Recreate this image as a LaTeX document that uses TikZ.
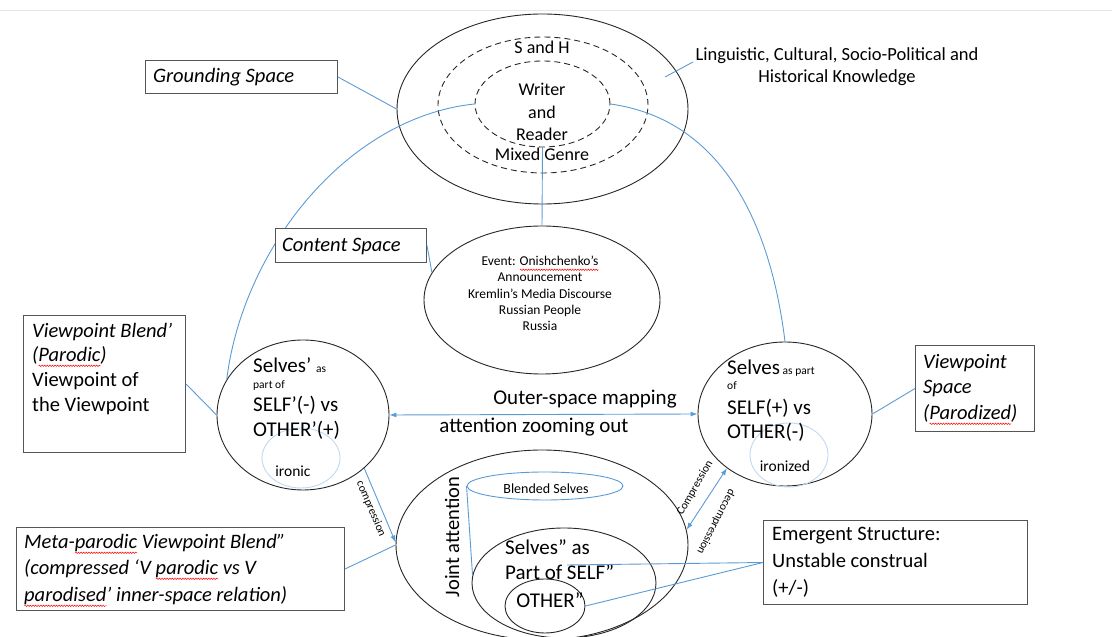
\documentclass[tikz,border=0pt]{standalone}
\usepackage{fontspec}
\setmainfont{Carlito}
\usetikzlibrary{arrows.meta,shapes.geometric,decorations.pathmorphing}
\definecolor{linkblue}{RGB}{91,155,213}
\definecolor{paleblue}{RGB}{192,216,240}
\definecolor{boxgray}{RGB}{85,85,85}
% red wavy underline, as left by a spell checker
\newsavebox\wavebox
\newlength\wavelen
\newcommand\spellwave[1]{\sbox\wavebox{#1}\setlength\wavelen{\wd\wavebox}%
  \rlap{\tikz[baseline=0pt]\draw[red,line width=0.5pt,decorate,
    decoration={snake,amplitude=0.7pt,segment length=2.6pt}]
    (0pt,-3.8pt) -- (\wavelen,-3.8pt);}\usebox\wavebox}
\newcommand\fs[2]{\fontsize{#1}{#2}\selectfont}

\begin{document}
\begin{tikzpicture}[x=1pt,y=1pt,
  oval/.style={ellipse, draw=black!85, line width=0.9pt, inner sep=0pt},
  dashoval/.style={oval, dash pattern=on 6pt off 4pt},
  halo/.style={ellipse, draw=paleblue, line width=0.9pt, inner sep=0pt},
  frame/.style={draw=boxgray, fill=white, line width=1pt, inner sep=0pt, anchor=north west},
  link/.style={draw=linkblue, line width=0.9pt},
  arrow/.style={link, -{Latex[length=7pt,width=5pt]}},
  twoway/.style={link, {Latex[length=7pt,width=5pt]}-{Latex[length=7pt,width=5pt]}},
  txt/.style={inner sep=0pt, anchor=base west},
  ctxt/.style={inner sep=0pt, anchor=base},
]
\useasboundingbox (0,0) rectangle (1112,637);
\begin{scope}
\clip (0,0) rectangle (1112,637);
\draw[black!10] (0,627) -- (1112,627);

% ---------- grounding space ----------
\node[oval, minimum width=291, minimum height=190] (ground) at (542.5,528) {};
\node[dashoval, minimum width=210, minimum height=136] (sh) at (543,532) {};
\node[dashoval, minimum width=135, minimum height=86] (wr) at (542.5,533) {};
\node[ctxt] (tSH) at (542,583) {\fs{18}{22}S and H};
\node[ctxt] (tW) at (542,541) {\fs{18}{22}Writer};
\node[ctxt] (tA) at (542,518) {\fs{18}{22}and};
\node[ctxt] (tR) at (542,496) {\fs{18}{22}Reader};
\node[ctxt] (tMG) at (542,476) {\fs{18}{22}Mixed Genre};

\node[ctxt] (k1) at (837,576) {\fs{18.5}{22}Linguistic, Cultural, Socio-Political and};
\node[ctxt] (k2) at (837,554) {\fs{18.5}{22}Historical Knowledge};
\coordinate (kA) at (693,575);
\coordinate (kB) at (665,560);
\draw[link] (kA) -- (kB);

% ---------- content space ----------
\node[oval, minimum width=236, minimum height=148] (content) at (542,337) {};
\node[ctxt] (c1) at (540,371) {\fs{13.5}{16}Event: \spellwave{Onishchenko’s}};
\node[ctxt] (c2) at (540,355) {\fs{13.5}{16}Announcement};
\node[ctxt] (c3) at (540,338) {\fs{13.5}{16}Kremlin’s Media Discourse};
\node[ctxt] (c4) at (540,322) {\fs{13.5}{16}Russian People};
\node[ctxt] (c5) at (540,306) {\fs{13.5}{16}Russia};

% ---------- viewpoint spaces ----------
\node[oval, minimum width=172, minimum height=150] (selvesL) at (303,222) {};
\node[halo, minimum width=78, minimum height=60] (ironyL) at (301,179) {};
\node[txt] (l1) at (253,264) {\fs{21}{25}Selves’ {\fs{11.5}{14}as}};
\node[txt] (l2) at (253,248) {\fs{11.5}{14}part of};
\node[txt] (l3) at (253,225) {\fs{21}{25}SELF’(-) vs};
\node[txt] (l4) at (253,200) {\fs{21}{25}OTHER’(+)};
\node[ctxt] (l5) at (293,160) {\fs{15.5}{18}ironic};

\node[oval, minimum width=174, minimum height=144] (selvesR) at (785,223) {};
\node[halo, minimum width=78, minimum height=64] (ironyR) at (789,182) {};
\node[txt] (r1) at (727,262) {\fs{21}{25}Selves{\fs{11.5}{14} as part}};
\node[txt] (r2) at (727,247) {\fs{11.5}{14}of};
\node[txt] (r3) at (727,222) {\fs{21}{25}SELF(+) vs};
\node[txt] (r4) at (727,198) {\fs{21}{25}OTHER(-)};
\node[ctxt] (r5) at (785,165) {\fs{15.5}{18}ironized};

\draw[twoway] (selvesL.east) -- (selvesR.west);
\node[ctxt] (m1) at (585,232) {\fs{21}{25}Outer-space mapping};
\node[ctxt] (m2) at (534,204) {\fs{21}{25}attention zooming out};

% ---------- joint attention blend ----------
\node[oval, minimum width=292, minimum height=190] (joint) at (542,92) {};
\node[oval, draw=linkblue, minimum width=156, minimum height=28] (blend) at (545,151) {};
\node[ctxt] (tb) at (546,143) {\fs{14}{17}Blended Selves};
\node[oval, minimum width=184, minimum height=110] (inner) at (564,54) {};
\node[oval, minimum width=80, minimum height=54] (other) at (545,31) {};
\node[txt] (j1) at (505,82) {\fs{21}{25}Selves” as};
\node[txt] (j2) at (505,57) {\fs{21}{25}Part of SELF”};
\node[ctxt] (j3) at (550,29) {\fs{21}{25}OTHER”};
\node[inner sep=0pt, rotate=90] (ja) at (452,100) {\fs{20.5}{25}Joint attention};
\draw[link] (blend.west) -- (inner.175);

% ---------- connectors ----------
\draw[link] (wr.south) -- (content.north);
\draw[link] (wr.west) to[out=186, in=83, looseness=0.9] (selvesL.155);
\draw[link] (wr.east) to[out=-8, in=97] (selvesR.north);

\draw[arrow] (selvesL.-41) -- (joint.179);
\node[inner sep=0pt, rotate=-67] (lc) at (371,128) {\fs{11.5}{14}compression};
\draw[twoway] (joint.6) -- (selvesR.223);
\node[inner sep=0pt, rotate=60] (rc) at (695,149) {\fs{11.5}{14}Compression};
\node[inner sep=0pt, rotate=-117] (rd) at (716,115) {\fs{11.5}{14}decompression};

% ---------- labels in frames ----------
\node[frame, minimum width=192, minimum height=33] (gbox) at (145,577) {};
\node[txt] (gt) at (153,554) {\fs{20.5}{25}\itshape Grounding Space};
\draw[link] (gbox.east) -- (ground.west);

\node[frame, minimum width=151, minimum height=34] (cbox) at (275,409) {};
\node[txt] (ct) at (282,385) {\fs{20.5}{25}\itshape Content Space};
\draw[link] (cbox.east) -- (content.166);

\node[frame, minimum width=162, minimum height=137] (vbox) at (23,322) {};
\node[txt] (v1) at (32,299) {\fs{20.5}{25}\itshape Viewpoint Blend’};
\node[txt] (v2) at (32,275) {\fs{20.5}{25}\itshape (\spellwave{Parodic})};
\node[txt] (v3) at (32,250) {\fs{20.5}{25}Viewpoint of};
\node[txt] (v4) at (32,225) {\fs{20.5}{25}the Viewpoint};
\draw[link] (vbox.east) -- (selvesL.west);

\node[frame, minimum width=119, minimum height=86] (sbox) at (915,292) {};
\node[txt] (s1) at (923,268) {\fs{20.5}{25}\itshape Viewpoint};
\node[txt] (s2) at (923,243) {\fs{20.5}{25}\itshape Space};
\node[txt] (s3) at (923,217) {\fs{20.5}{25}\itshape (\spellwave{Parodized})};
\draw[link] (sbox.west) -- (selvesR.east);

\node[frame, minimum width=328, minimum height=83] (mbox) at (16,110) {};
\node[txt] (mt1) at (24,88) {\fs{20.5}{25}\itshape Meta-\spellwave{parodic} Viewpoint Blend”};
\node[txt] (mt2) at (24,62) {\fs{20.5}{25}\itshape (compressed ‘V \spellwave{parodic} vs V};
\node[txt] (mt3) at (24,35) {\fs{20.5}{25}\itshape \spellwave{parodised}’ inner-space relation)};
\draw[link] (mbox.east) -- (joint.west);

\node[frame, minimum width=264, minimum height=84] (ebox) at (763,117) {};
\node[txt] (e1) at (772,96) {\fs{20.5}{25}Emergent Structure:};
\node[txt] (e2) at (772,69) {\fs{20.5}{25}Unstable construal};
\node[txt] (e3) at (772,42) {\fs{20.5}{25}(+/-)};
\coordinate (eIn) at (567,72);
\draw[link] (ebox.west) -- (eIn);
\draw[link] (ebox.west) -- (other.east);
\end{scope}
\end{tikzpicture}
\end{document}
